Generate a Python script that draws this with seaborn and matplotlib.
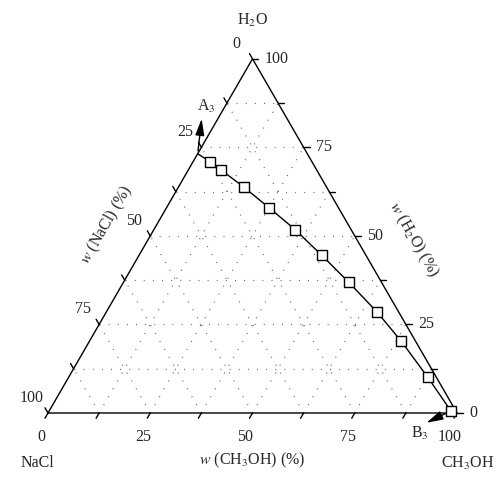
import numpy as np
import matplotlib
matplotlib.use("Agg")
import matplotlib.pyplot as plt
import seaborn as sns

# phase boundary (mass %), A3 -> B3
h2o = [73.2, 71.0, 68.7, 63.7, 58.0, 51.8, 44.5, 36.9, 28.5, 20.3, 10.1, 0.6]
ch3oh = [0.0, 4.1, 7.9, 16.1, 25.0, 34.5, 44.7, 55.1, 66.2, 76.2, 87.8, 98.2]
nacl = [100 - a - b for a, b in zip(h2o, ch3oh)]

tick_vals = [0, 25, 50, 75, 100]

sns.set_style("white")
plt.rcParams["font.family"] = ["Liberation Serif", "DejaVu Serif"]
plt.rcParams["mathtext.fontset"] = "stix"

S3 = np.sqrt(3) / 2
PX = 1 / 409  # data units per pixel


def to_xy(c, h):
    """ternary (CH3OH, H2O fractions) -> cartesian"""
    return c + h / 2, h * S3


def P(x, y):
    """pixel position -> data coords"""
    return (x - 48) * PX, (413 - y) * PX


fig = plt.figure(figsize=(5, 4.84), dpi=100)
ax = fig.add_axes([0, 0, 1, 1])
ax.set_xlim(-48 * PX, 452 * PX)
ax.set_ylim(-71 * PX, 413 * PX)
ax.axis("off")

# frame
ax.plot([0, 1, 0.5, 0], [0, 0, S3, 0], color="black", lw=1, zorder=2)

# dotted grid
grid_kw = dict(color="#666666", lw=0.9, ls=(0, (0.8, 6.5)), zorder=1)
for k in range(1, 8):
    f = k / 8
    x0, y0 = to_xy(0, f); x1, y1 = to_xy(1 - f, f)
    ax.plot([x0, x1], [y0, y1], **grid_kw)
    x0, y0 = to_xy(f, 0); x1, y1 = to_xy(f, 1 - f)
    ax.plot([x0, x1], [y0, y1], **grid_kw)
    x0, y0 = to_xy(1 - f, 0); x1, y1 = to_xy(0, 1 - f)
    ax.plot([x0, x1], [y0, y1], **grid_kw)

# ticks and tick labels
tl = 6 * PX
fs = 11.5
for k in range(9):
    f = k / 8
    # bottom: CH3OH
    x, y = to_xy(f, 0)
    ax.plot([x, x - 0.5 * tl], [y, y - S3 * tl], color="black", lw=1)
    # right: H2O
    x2, y2 = to_xy(1 - f, f)
    ax.plot([x2, x2 + tl], [y2, y2], color="black", lw=1)
    # left: NaCl
    x3, y3 = to_xy(0, 1 - f)
    ax.plot([x3, x3 - 0.5 * tl], [y3, y3 + S3 * tl], color="black", lw=1)
    v = round(f * 100)
    if v in tick_vals:
        ax.text(x - 7 * PX, y - 24 * PX, str(v), ha="center", va="center", fontsize=fs)
        ax.text(x2 + 12 * PX, y2, str(v), ha="left", va="center", fontsize=fs)
        ax.text(x3 - 16 * PX, y3 + 15 * PX, str(v), ha="center", va="center", fontsize=fs)

# boundary curve
cart = [to_xy(c / 100, h / 100) for c, h in zip(ch3oh, h2o)]
xs = [p[0] for p in cart]
ys = [p[1] for p in cart]
sns.lineplot(x=xs, y=ys, sort=False, estimator=None, color="black", lw=1, ax=ax, zorder=3)
sns.scatterplot(x=xs[1:], y=ys[1:], marker="s", s=42, color="white",
                edgecolor="black", linewidth=1, ax=ax, zorder=4)

# A3 / B3 arrows
arrow_kw = dict(arrowstyle="-|>,head_length=1.0,head_width=0.27", color="black",
                lw=1, mutation_scale=10)
ax.annotate("", xy=P(202, 116), xytext=(xs[0], ys[0]), arrowprops=arrow_kw)
ax.annotate("", xy=P(424, 424), xytext=(xs[-1], ys[-1]), arrowprops=arrow_kw)
ax.text(*P(206, 106), "A$_3$", ha="center", va="center", fontsize=fs)
ax.text(*P(420, 433), "B$_3$", ha="center", va="center", fontsize=fs)

# vertex and axis titles
ax.text(*P(252, 20), "H$_2$O", ha="center", va="center", fontsize=fs)
ax.text(*P(37, 463), "NaCl", ha="center", va="center", fontsize=fs)
ax.text(*P(468, 463), "CH$_3$OH", ha="center", va="center", fontsize=fs)
ax.text(*P(252, 460), "$w$ (CH$_3$OH) (%)", ha="center", va="center", fontsize=fs)
ax.text(*P(107, 225), "$w$ (NaCl) (%)", ha="center", va="center", fontsize=fs,
        rotation=60, rotation_mode="anchor")
ax.text(*P(413, 240), "$w$ (H$_2$O) (%)", ha="center", va="center", fontsize=fs,
        rotation=-60, rotation_mode="anchor")

fig.savefig("out.png", dpi=100)
